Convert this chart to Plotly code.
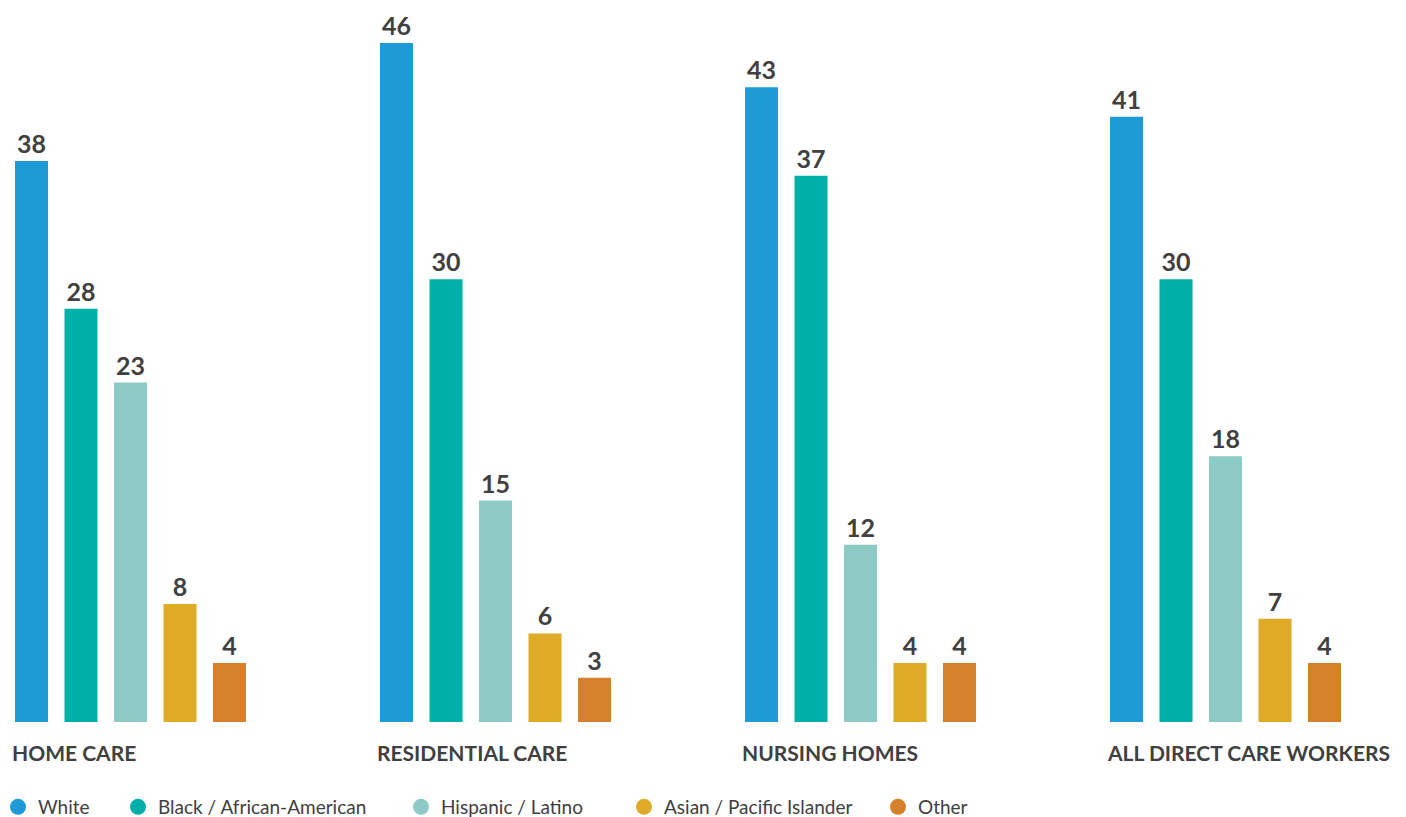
import plotly.graph_objects as go

categories = ["HOME CARE", "RESIDENTIAL CARE", "NURSING HOMES", "ALL DIRECT CARE WORKERS"]
series_names = ["White", "Black / African-American", "Hispanic / Latino", "Asian / Pacific Islander", "Other"]
white = [38, 46, 43, 41]
black = [28, 30, 37, 30]
hispanic = [23, 15, 12, 18]
asian = [8, 6, 4, 7]
other = [4, 3, 4, 4]
series_values = [white, black, hispanic, asian, other]
colors = ["#1E9AD6", "#00B0A8", "#8DCAC6", "#DEAA28", "#D5802A"]

TEXT = "#404040"
FONT = "Lato"

fig = go.Figure()
for name, vals, col in zip(series_names, series_values, colors):
    fig.add_trace(go.Bar(
        x=categories, y=vals, name=name, marker_color=col, marker_line_width=0,
        text=[str(v) for v in vals], textposition="outside",
        textfont=dict(family=FONT, size=25, color=TEXT, weight="bold"),
        cliponaxis=False, showlegend=False,
    ))

# legend entries with round markers, each in its own legend box
legend_px = [-10, 110, 393, 616, 870]
for i, (name, col) in enumerate(zip(series_names, colors)):
    lg = "legend" if i == 0 else f"legend{i+1}"
    fig.add_trace(go.Scatter(
        x=[None], y=[None], mode="markers", name=name,
        marker=dict(symbol="circle", size=17, color=col),
        legend=lg, showlegend=True,
    ))

# figure sits inside the page's 8px body margin
W, H = 1398, 809
plot_bottom = 714
legends = {}
for i, px in enumerate(legend_px):
    lg = "legend" if i == 0 else f"legend{i+1}"
    legends[lg] = dict(
        x=px / W, xanchor="left", y=-(799 - plot_bottom) / plot_bottom, yanchor="middle",
        orientation="h", font=dict(family=FONT, size=19, color=TEXT),
        bgcolor="rgba(0,0,0,0)", borderwidth=0,
    )

for c in categories:
    fig.add_annotation(
        x=c, y=0, xref="x", yref="y", text=c, showarrow=False,
        xanchor="left", yanchor="middle", xshift=-120.5, yshift=-30,
        font=dict(family=FONT, size=21, color=TEXT, weight="bold"),
    )

fig.update_layout(
    width=W, height=H,
    margin=dict(l=0, r=0, t=0, b=H - plot_bottom, autoexpand=False),
    paper_bgcolor="white", plot_bgcolor="white",
    barmode="group", bargap=0.322, bargroupgap=0.333,
    xaxis=dict(type="category", range=[-122.5 / 365, (W - 122.5) / 365],
               showticklabels=False, showgrid=False, zeroline=False, showline=False, ticks=""),
    yaxis=dict(range=[0, plot_bottom / (679 / 46)], visible=False, showgrid=False, zeroline=False),
    font=dict(family=FONT, color=TEXT),
    **legends,
)

fig.write_html("out.html")
